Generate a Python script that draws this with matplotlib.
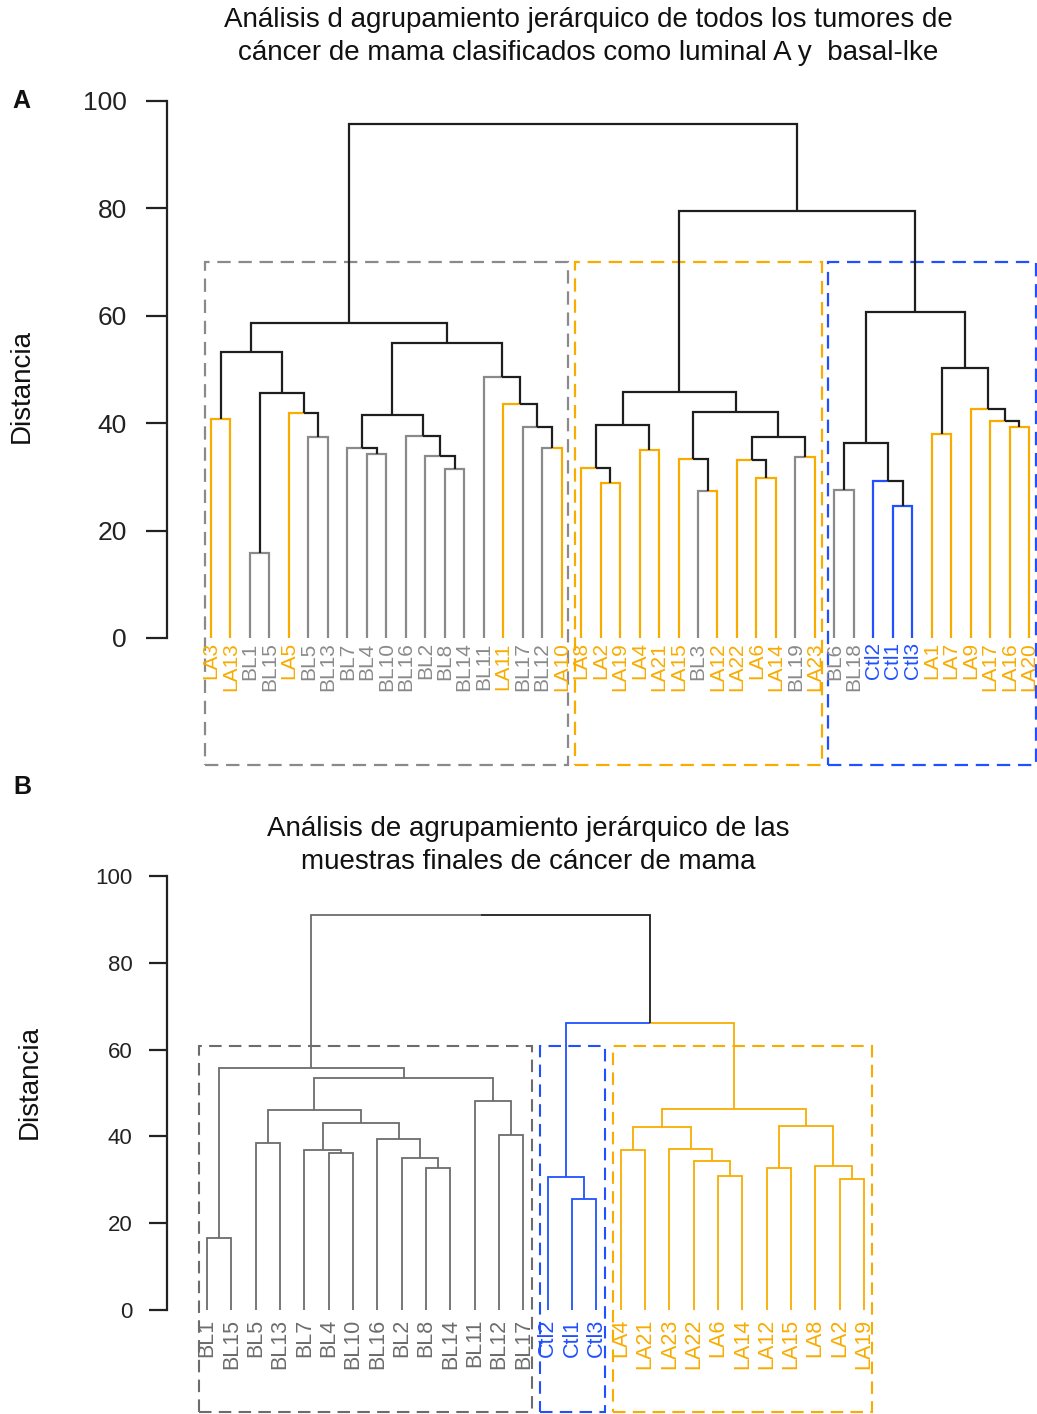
import matplotlib
matplotlib.use('Agg')
import matplotlib.pyplot as plt
from matplotlib.patches import Rectangle

plt.rcParams['font.family'] = ['Liberation Sans', 'DejaVu Sans']

W, H = 1037, 1414
ORANGE = '#F8AC00'
BLUE = '#2050FF'
GREY_A = '#8A8A8A'
GREY_B = '#6C6C6C'
BLACK = '#1E1E1E'

# ---------------- Panel A data ----------------
leaves_A = ['LA3', 'LA13', 'BL1', 'BL15', 'LA5', 'BL5', 'BL13', 'BL7', 'BL4', 'BL10',
            'BL16', 'BL2', 'BL8', 'BL14', 'BL11', 'LA11', 'BL17', 'BL12', 'LA10',
            'LA8', 'LA2', 'LA19', 'LA4', 'LA21', 'LA15', 'BL3', 'LA12', 'LA22', 'LA6',
            'LA14', 'BL19', 'LA23',
            'BL6', 'BL18', 'Ctl2', 'Ctl1', 'Ctl3', 'LA1', 'LA7', 'LA9', 'LA17', 'LA16', 'LA20']
left_A = ['LA3', 'BL1', 'BL5', 'LA5', 1, 0, 'BL4', 'BL7', 'BL8', 'BL2', 'BL16', 7,
          'BL12', 'BL17', 'LA11', 'BL11', 11, 5,
          'LA2', 'LA8', 'LA4', 19, 'BL3', 'LA15', 'LA6', 'LA22', 'BL19', 25, 23, 21,
          'BL6', 'Ctl1', 'Ctl2', 30, 'LA16', 'LA17', 'LA9', 'LA1', 37, 33, 29, 17]
right_A = ['LA13', 'BL15', 'BL13', 2, 3, 4, 'BL10', 6, 'BL14', 8, 9, 10,
           'LA10', 12, 13, 14, 15, 16,
           'LA19', 18, 'LA21', 20, 'LA12', 22, 'LA14', 24, 'LA23', 26, 27, 28,
           'BL18', 'Ctl3', 31, 32, 'LA20', 34, 35, 'LA7', 36, 38, 39, 40]
height_A = [40.7, 15.8, 37.4, 41.9, 45.6, 53.3, 34.3, 35.4, 31.5, 33.9, 37.6, 41.5,
            35.4, 39.3, 43.6, 48.6, 54.9, 58.7,
            28.9, 31.7, 35.0, 39.7, 27.4, 33.3, 29.8, 33.1, 33.7, 37.4, 42.1, 45.8,
            27.6, 24.6, 29.2, 36.3, 39.3, 40.4, 42.6, 38.0, 50.3, 60.7, 79.5, 95.7]
cluster_sizes_A = [19, 13, 11]
cluster_colors_A = [GREY_A, ORANGE, BLUE]

# ---------------- Panel B data ----------------
leaves_B = ['BL1', 'BL15', 'BL5', 'BL13', 'BL7', 'BL4', 'BL10', 'BL16', 'BL2', 'BL8',
            'BL14', 'BL11', 'BL12', 'BL17', 'Ctl2', 'Ctl1', 'Ctl3',
            'LA4', 'LA21', 'LA23', 'LA22', 'LA6', 'LA14', 'LA12', 'LA15', 'LA8', 'LA2', 'LA19']
left_B = ['BL1', 'BL5', 'BL4', 'BL7', 'BL8', 'BL2', 'BL16', 3, 1, 'BL12', 'BL11', 8, 0,
          'Ctl1', 'Ctl2', 'LA4', 'LA6', 'LA22', 'LA23', 15, 'LA12', 'LA2', 'LA8', 20, 19, 14, 12]
right_B = ['BL15', 'BL13', 'BL10', 2, 'BL14', 4, 5, 6, 7, 'BL17', 9, 10, 11,
           'Ctl3', 13, 'LA21', 'LA14', 16, 17, 18, 'LA15', 'LA19', 21, 22, 23, 24, 25]
height_B = [16.6, 38.5, 36.2, 36.9, 32.7, 35.0, 39.4, 43.1, 46.1, 40.3, 48.2, 53.5, 55.8,
            25.6, 30.6, 36.9, 30.9, 34.3, 37.1, 42.2, 32.7, 30.2, 33.2, 42.4, 46.3, 66.1, 91.0]
cluster_sizes_B = [14, 3, 11]
cluster_colors_B = [GREY_B, BLUE, ORANGE]

yticks = [0, 20, 40, 60, 80, 100]


def leaf_color(name, grey):
    if name.startswith('LA'):
        return ORANGE
    if name.startswith('Ctl'):
        return BLUE
    return grey


def build(leaves, left, right, heights):
    pos = {n: i for i, n in enumerate(leaves)}
    nodes = []

    def child(c):
        if isinstance(c, str):
            return (pos[c], 0.0, [c])
        return nodes[c]
    for a, b, h in zip(left, right, heights):
        ca, cb = child(a), child(b)
        nodes.append(((ca[0] + cb[0]) / 2.0, h, ca[2] + cb[2], ca, cb))
    return nodes


def draw_dendro(ax, leaves, left, right, heights, grey, mode, lw):
    nodes = build(leaves, left, right, heights)
    for node in nodes:
        xp, hp = node[0], node[1]
        for ch in (node[3], node[4]):
            xc, hc, members = ch[0], ch[1], ch[2]
            cols = set(leaf_color(m, grey) for m in members)
            if mode == 'leaf':
                col = leaf_color(members[0], grey) if len(members) == 1 else BLACK
            else:
                col = cols.pop() if len(cols) == 1 else BLACK
            ax.plot([xp, xc, xc], [hp, hp, hc], color=col, lw=lw,
                    solid_capstyle='butt', solid_joinstyle='miter', clip_on=False)


def setup_axes(rect_px, xlim, tick_fs, tick_len, tick_pad):
    x0, y0, x1, y1 = rect_px
    ax = fig.add_axes([x0 / W, 1 - y1 / H, (x1 - x0) / W, (y1 - y0) / H])
    ax.set_xlim(*xlim)
    ax.set_ylim(0, 100)
    for s in ['top', 'right', 'bottom']:
        ax.spines[s].set_visible(False)
    ax.spines['left'].set_linewidth(1.6)
    ax.spines['left'].set_color('#222222')
    ax.spines['left'].set_bounds(0, 100)
    ax.set_xticks([])
    ax.set_yticks(yticks)
    ax.tick_params(axis='y', length=tick_len, width=1.6, labelsize=tick_fs,
                   pad=tick_pad, colors='#222222')
    ax.patch.set_alpha(0)
    return ax


def draw_labels(ax, leaves, grey, fs, offset):
    for i, n in enumerate(leaves):
        ax.text(i, offset, n, rotation=90, ha='center', va='top', fontsize=fs,
                color=leaf_color(n, grey), clip_on=False)


def draw_boxes(ax, sizes, colors, top, bottom, lw, dash):
    start = 0
    for sz, col in zip(sizes, colors):
        x0 = start - 0.32
        x1 = start + sz - 1 + 0.34
        ax.add_patch(Rectangle((x0, bottom), x1 - x0, top - bottom, fill=False,
                               edgecolor=col, lw=lw, linestyle=(0, dash), clip_on=False))
        start += sz


fig = plt.figure(figsize=(W / 100, H / 100), dpi=100)

# ---------- Panel A ----------
spA = 19.48
axA = setup_axes((167, 101, 1037, 638), (-44 / spA, 826 / spA), 19, 15, 14)
draw_dendro(axA, leaves_A, left_A, right_A, height_A, GREY_A, 'leaf', 1.6)
draw_labels(axA, leaves_A, GREY_A, 15, -0.8)
draw_boxes(axA, cluster_sizes_A, cluster_colors_A, 70.0, -23.6, 1.6, (6, 3.5))
fig.text(588 / W, 1 - 20 / H, 'Análisis d agrupamiento jerárquico de todos los tumores de',
         ha='center', va='center', fontsize=20, color='#111111')
fig.text(588 / W, 1 - 53 / H, 'cáncer de mama clasificados como luminal A y  basal-lke',
         ha='center', va='center', fontsize=20, color='#111111')
fig.text(22 / W, 1 - 386 / H, 'Distancia', rotation=90, ha='center', va='center',
         fontsize=20, color='#111111')
fig.text(21 / W, 1 - 101 / H, 'A', ha='center', va='center', fontsize=18,
         fontweight='bold', color='#111111')

# ---------- Panel B ----------
spB = 24.33
axB = setup_axes((167, 876, 1037, 1310), (-40 / spB, 830 / spB), 16, 13, 12)
draw_dendro(axB, leaves_B, left_B, right_B, height_B, GREY_B, 'cluster', 1.3)
draw_labels(axB, leaves_B, GREY_B, 15.5, -2.0)
draw_boxes(axB, cluster_sizes_B, cluster_colors_B, 60.8, -23.5, 1.5, (6, 3.5))
fig.text(528 / W, 1 - 829 / H, 'Análisis de agrupamiento jerárquico de las',
         ha='center', va='center', fontsize=20, color='#111111')
fig.text(528 / W, 1 - 862 / H, 'muestras finales de cáncer de mama',
         ha='center', va='center', fontsize=20, color='#111111')
fig.text(30 / W, 1 - 1082 / H, 'Distancia', rotation=90, ha='center', va='center',
         fontsize=20, color='#111111')
fig.text(22 / W, 1 - 787 / H, 'B', ha='center', va='center', fontsize=18,
         fontweight='bold', color='#111111')

fig.savefig('out.png', dpi=100, facecolor='white')
